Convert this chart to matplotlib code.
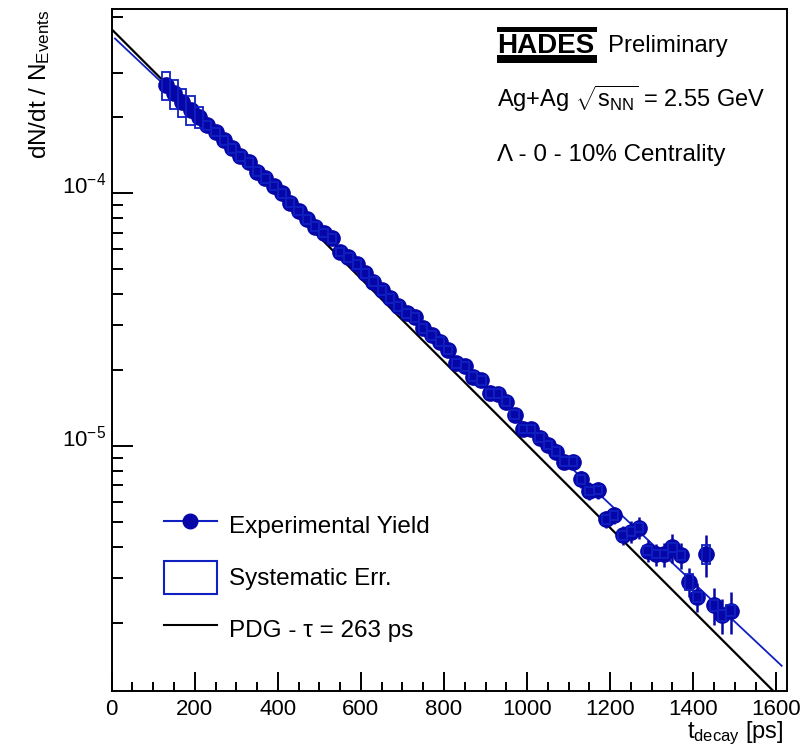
import numpy as np
import matplotlib.pyplot as plt
from matplotlib.lines import Line2D
from matplotlib.patches import Rectangle
from matplotlib.ticker import FixedLocator, MultipleLocator, NullFormatter

plt.rcParams['font.family'] = ['Liberation Sans', 'DejaVu Sans']
plt.rcParams['mathtext.fontset'] = 'custom'
plt.rcParams['mathtext.rm'] = 'Liberation Sans'
plt.rcParams['mathtext.it'] = 'Liberation Sans:italic'
plt.rcParams['mathtext.bf'] = 'Liberation Sans:bold'

# Lambda decay time spectrum, Ag+Ag 0-10%
t_decay = [130, 150, 170, 190, 210, 230, 250, 270, 290, 310,
           330, 350, 370, 390, 410, 430, 450, 470, 490, 510,
           530, 550, 570, 590, 610, 630, 650, 670, 690, 710,
           730, 750, 770, 790, 810, 830, 850, 870, 890, 910,
           930, 950, 970, 990, 1010, 1030, 1050, 1070, 1090, 1110,
           1130, 1150, 1170, 1190, 1210, 1230, 1250, 1270, 1290, 1310,
           1330, 1350, 1370, 1390, 1410, 1430, 1450, 1470, 1490]
dndt = [2.68e-4, 2.49e-4, 2.30e-4, 2.14e-4, 2.00e-4, 1.86e-4, 1.75e-4, 1.62e-4, 1.51e-4, 1.40e-4,
        1.33e-4, 1.22e-4, 1.15e-4, 1.07e-4, 1.00e-4, 9.18e-5, 8.53e-5, 7.89e-5, 7.38e-5, 6.98e-5,
        6.64e-5, 5.87e-5, 5.58e-5, 5.25e-5, 4.83e-5, 4.47e-5, 4.14e-5, 3.84e-5, 3.58e-5, 3.35e-5,
        3.23e-5, 2.92e-5, 2.75e-5, 2.59e-5, 2.40e-5, 2.13e-5, 2.07e-5, 1.88e-5, 1.82e-5, 1.62e-5,
        1.61e-5, 1.50e-5, 1.33e-5, 1.17e-5, 1.17e-5, 1.08e-5, 1.01e-5, 9.49e-6, 8.67e-6, 8.67e-6,
        7.40e-6, 6.65e-6, 6.70e-6, 5.13e-6, 5.33e-6, 4.44e-6, 4.58e-6, 4.75e-6, 3.85e-6, 3.74e-6,
        3.74e-6, 3.97e-6, 3.70e-6, 2.90e-6, 2.53e-6, 3.74e-6, 2.35e-6, 2.14e-6, 2.23e-6]
# relative errors
stat_rel = [0.02] * 45 + [0.04, 0.04, 0.05, 0.06, 0.06,
                          0.08, 0.08, 0.08, 0.08, 0.08, 0.09, 0.10, 0.10, 0.10, 0.10,
                          0.11, 0.13, 0.12, 0.13, 0.13, 0.19, 0.17, 0.16, 0.19]
sys_rel = [0.13, 0.13, 0.13, 0.13, 0.095] + [0.04] * 58 + [0.07, 0.05, 0.085, 0.05, 0.05, 0.05]

# exponential fit to data and PDG lifetime, read at their end points
fit_t = [8, 1613]
fit_y = [4.10e-4, 1.35e-6]
pdg_t = [0, 1625]
pdg_y = [4.46e-4, 9.5e-7]

mark_col = '#0505a8'
line_col = '#1020c0'

t = np.array(t_decay)
y = np.array(dndt)
stat = y * np.array(stat_rel)
sys = y * np.array(sys_rel)

fig = plt.figure(figsize=(8.08, 7.51), dpi=100)
ax = fig.add_axes([0.1382, 0.0803, 0.8354, 0.9073])
ax.set_yscale('log')

ax.plot(pdg_t, pdg_y, color='black', lw=1.6, zorder=2)
ax.plot(fit_t, fit_y, color=line_col, lw=1.3, zorder=2)
ax.errorbar(t, y, yerr=stat, fmt='o', ms=11, color=mark_col, ecolor=mark_col,
            elinewidth=1.8, capsize=0, zorder=3)
ax.bar(t, 2 * sys, width=20, bottom=y - sys, fill=False, edgecolor=line_col,
       linewidth=1.3, zorder=4)

ax.set_xlim(0, 1625)
ax.set_ylim(1.076e-6, 5.35e-4)

ax.xaxis.set_major_locator(MultipleLocator(200))
ax.xaxis.set_minor_locator(MultipleLocator(50))
ax.yaxis.set_major_locator(FixedLocator([1e-5, 1e-4]))
ax.yaxis.set_minor_locator(FixedLocator([2e-6, 3e-6, 4e-6, 5e-6, 6e-6, 7e-6, 8e-6, 9e-6,
                                         2e-5, 3e-5, 4e-5, 5e-5, 6e-5, 7e-5, 8e-5, 9e-5,
                                         2e-4, 3e-4, 5e-4]))
ax.yaxis.set_minor_formatter(NullFormatter())
ax.set_yticklabels([r'$10^{-5}$', r'$10^{-4}$'])
ax.tick_params(axis='both', which='both', direction='in', width=1.4, labelsize=16,
               top=False, right=False)
ax.tick_params(axis='x', which='major', length=14, pad=6)
ax.tick_params(axis='x', which='minor', length=6.5)
ax.tick_params(axis='y', which='major', length=15, pad=4)
ax.tick_params(axis='y', which='minor', length=8)
for lab in ax.get_yticklabels():
    lab.set_verticalalignment('baseline')
for sp in ax.spines.values():
    sp.set_linewidth(1.4)

ax.set_xlabel(r'$\mathrm{t_{decay}}$ [ps]', fontsize=17, loc='right')
ax.xaxis.set_label_coords(0.995, -0.043)
ax.set_ylabel(r'dN/dt / $\mathrm{N_{Events}}$', fontsize=17.5, loc='top')
ax.yaxis.set_label_coords(-0.088, 1.0)

# HADES logo and labels
ax.add_patch(Rectangle((0.571, 0.9671), 0.148, 0.0065, transform=ax.transAxes,
                       color='black', lw=0))
ax.add_patch(Rectangle((0.571, 0.9216), 0.148, 0.012, transform=ax.transAxes,
                       color='black', lw=0))
ax.text(0.571, 0.9359, 'HADES', transform=ax.transAxes, fontsize=20,
        fontweight='bold', va='baseline', ha='left')
ax.text(0.735, 0.9375, 'Preliminary', transform=ax.transAxes, fontsize=17.2,
        va='baseline', ha='left')
ax.text(0.571, 0.8568, r'Ag+Ag $\sqrt{\mathrm{s_{NN}}}$ = 2.55 GeV', transform=ax.transAxes,
        fontsize=17, va='baseline', ha='left')
ax.text(0.571, 0.7772, 'Λ - 0 - 10% Centrality', transform=ax.transAxes,
        fontsize=17.4, va='baseline', ha='left')

handles = [Line2D([], [], color=line_col, lw=1.5, marker='o', ms=10.5, mfc=mark_col, mec=mark_col),
           Rectangle((0, 0), 1, 1, fill=False, edgecolor=line_col, lw=1.5),
           Line2D([], [], color='black', lw=1.5)]
labels = ['Experimental Yield', 'Systematic Err.', 'PDG - τ = 263 ps']
ax.legend(handles, labels, loc='upper left', bbox_to_anchor=(0.077, 0.2674),
          frameon=False, fontsize=17.5, handlelength=2.2, handleheight=1.75,
          handletextpad=0.48, labelspacing=0.76, borderpad=0, borderaxespad=0)

fig.savefig('out.png', dpi=100)
